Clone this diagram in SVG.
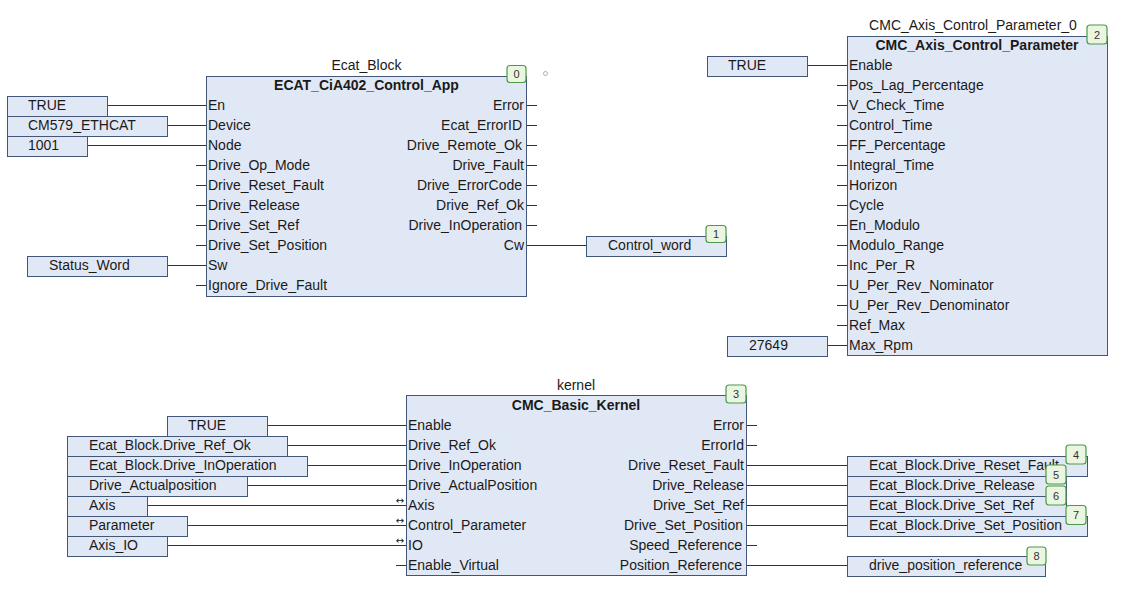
<svg xmlns="http://www.w3.org/2000/svg" width="1125" height="612" viewBox="0 0 1125 612">
<style>
text{font-family:"Liberation Sans",Arial,sans-serif;font-size:14px;fill:#1a1a1a}
.blk{fill:#e1e8f5;stroke:#42567a;stroke-width:1}
.var{fill:#e1e8f5;stroke:#42567a;stroke-width:1}
.ttl{font-weight:bold;text-anchor:middle}
.nm{text-anchor:middle}
.r{text-anchor:end}
.bd rect{fill:#eaf6df;stroke:#4a9a4a;stroke-width:1.2}
.bd text{font-size:11px;text-anchor:middle;fill:#333}
.w{stroke:#333;stroke-width:1;fill:none}
.io{font-family:"DejaVu Sans",sans-serif;font-size:10px;text-anchor:middle}
</style>
<rect width="1125" height="612" fill="#ffffff"/>

<g id="connectors" class="w">
<path d="M107 105.5H206M167 125.5H206M87 145.5H206M167 265.5H206"/>
<path d="M196 165.5H206M196 185.5H206M196 205.5H206M196 225.5H206M196 245.5H206M196 285.5H206"/>
<path d="M527 105.5H537M527 125.5H537M527 145.5H537M527 165.5H537M527 185.5H537M527 205.5H537M527 225.5H537"/>
<path d="M527 245.5H586"/>
<path d="M807 65.5H847M827 345.5H847"/>
<path d="M837 85.5H847M837 105.5H847M837 125.5H847M837 145.5H847M837 165.5H847M837 185.5H847M837 205.5H847M837 225.5H847M837 245.5H847M837 265.5H847M837 285.5H847M837 305.5H847M837 325.5H847"/>
<path d="M267 425.5H406M287 445.5H406M307 465.5H406M247 485.5H406M147 505.5H406M187 525.5H406M167 545.5H406M396 565.5H406"/>
<path d="M747 425.5H757M747 445.5H757M747 545.5H757"/>
<path d="M747 465.5H847M747 485.5H847M747 505.5H847M747 525.5H847M747 565.5H847"/>
</g>

<g id="ecat_block">
<text class="nm" x="366.5" y="70">Ecat_Block</text>
<rect class="blk" x="206.5" y="76.5" width="320" height="220"/>
<text class="ttl" x="366.5" y="90">ECAT_CiA402_Control_App</text>
<text x="208" y="110">En</text>
<text x="208" y="130">Device</text>
<text x="208" y="150">Node</text>
<text x="208" y="170">Drive_Op_Mode</text>
<text x="208" y="190">Drive_Reset_Fault</text>
<text x="208" y="210">Drive_Release</text>
<text x="208" y="230">Drive_Set_Ref</text>
<text x="208" y="250">Drive_Set_Position</text>
<text x="208" y="270">Sw</text>
<text x="208" y="290">Ignore_Drive_Fault</text>
<text class="r" x="524" y="110">Error</text>
<text class="r" x="522" y="130">Ecat_ErrorID</text>
<text class="r" x="522" y="150">Drive_Remote_Ok</text>
<text class="r" x="524" y="170">Drive_Fault</text>
<text class="r" x="522" y="190">Drive_ErrorCode</text>
<text class="r" x="524" y="210">Drive_Ref_Ok</text>
<text class="r" x="522" y="230">Drive_InOperation</text>
<text class="r" x="524" y="250">Cw</text>
<g class="bd"><rect x="507" y="65.5" width="19" height="17" rx="3"/><text x="516.5" y="78">0</text></g>
<circle cx="545.5" cy="73.5" r="2" fill="none" stroke="#999" stroke-width="0.8"/>
</g>

<g id="ecat_inputs">
<rect class="var" x="7.5" y="96.5" width="100" height="20"/><text x="28" y="110">TRUE</text>
<rect class="var" x="7.5" y="116.5" width="160" height="20"/><text x="28" y="130">CM579_ETHCAT</text>
<rect class="var" x="7.5" y="136.5" width="80" height="20"/><text x="28" y="150">1001</text>
<rect class="var" x="27.5" y="256.5" width="140" height="20"/><text x="49" y="270">Status_Word</text>
</g>

<g id="control_word">
<rect class="var" x="586.5" y="236.5" width="140" height="20"/><text x="608" y="250">Control_word</text>
<g class="bd"><rect x="706" y="225.5" width="20" height="17" rx="3"/><text x="716" y="238">1</text></g>
</g>

<g id="axis_param">
<text class="nm" x="973" y="30">CMC_Axis_Control_Parameter_0</text>
<rect class="blk" x="847.5" y="36.5" width="260" height="319"/>
<text class="ttl" x="977" y="50">CMC_Axis_Control_Parameter</text>
<text x="849" y="70">Enable</text>
<text x="849" y="90">Pos_Lag_Percentage</text>
<text x="849" y="110">V_Check_Time</text>
<text x="849" y="130">Control_Time</text>
<text x="849" y="150">FF_Percentage</text>
<text x="849" y="170">Integral_Time</text>
<text x="849" y="190">Horizon</text>
<text x="849" y="210">Cycle</text>
<text x="849" y="230">En_Modulo</text>
<text x="849" y="250">Modulo_Range</text>
<text x="849" y="270">Inc_Per_R</text>
<text x="849" y="290">U_Per_Rev_Nominator</text>
<text x="849" y="310">U_Per_Rev_Denominator</text>
<text x="849" y="330">Ref_Max</text>
<text x="849" y="350">Max_Rpm</text>
<g class="bd"><rect x="1087" y="25" width="20" height="19" rx="3"/><text x="1097" y="39">2</text></g>
</g>

<g id="axis_inputs">
<rect class="var" x="707.5" y="56.5" width="100" height="20"/><text x="728" y="70">TRUE</text>
<rect class="var" x="727.5" y="336.5" width="100" height="20"/><text x="749" y="350">27649</text>
</g>

<g id="kernel">
<text class="nm" x="576" y="390">kernel</text>
<rect class="blk" x="406.5" y="395.5" width="340" height="180"/>
<text class="ttl" x="576" y="410">CMC_Basic_Kernel</text>
<text x="408" y="430">Enable</text>
<text x="408" y="450">Drive_Ref_Ok</text>
<text x="408" y="470">Drive_InOperation</text>
<text x="408" y="490">Drive_ActualPosition</text>
<text x="408" y="510">Axis</text>
<text x="408" y="530">Control_Parameter</text>
<text x="408" y="550">IO</text>
<text x="408" y="570">Enable_Virtual</text>
<text class="io" x="400" y="504">↔</text>
<text class="io" x="400" y="524">↔</text>
<text class="io" x="400" y="544">↔</text>
<text class="r" x="744" y="430">Error</text>
<text class="r" x="744" y="450">ErrorId</text>
<text class="r" x="744" y="470">Drive_Reset_Fault</text>
<text class="r" x="744" y="490">Drive_Release</text>
<text class="r" x="744" y="510">Drive_Set_Ref</text>
<text class="r" x="743" y="530">Drive_Set_Position</text>
<text class="r" x="742" y="550">Speed_Reference</text>
<text class="r" x="742" y="570">Position_Reference</text>
<g class="bd"><rect x="726" y="385" width="20" height="18" rx="3"/><text x="736" y="398">3</text></g>
</g>

<g id="kernel_inputs">
<rect class="var" x="167.5" y="416.5" width="100" height="20"/><text x="188" y="430">TRUE</text>
<rect class="var" x="67.5" y="436.5" width="220" height="20"/><text x="89" y="450">Ecat_Block.Drive_Ref_Ok</text>
<rect class="var" x="67.5" y="456.5" width="240" height="20"/><text x="89" y="470">Ecat_Block.Drive_InOperation</text>
<rect class="var" x="67.5" y="476.5" width="180" height="20"/><text x="89" y="490">Drive_Actualposition</text>
<rect class="var" x="67.5" y="496.5" width="80" height="20"/><text x="89" y="510">Axis</text>
<rect class="var" x="67.5" y="516.5" width="120" height="20"/><text x="89" y="530">Parameter</text>
<rect class="var" x="67.5" y="536.5" width="100" height="20"/><text x="89" y="550">Axis_IO</text>
</g>

<g id="kernel_outputs">
<rect class="var" x="847.5" y="456.5" width="240" height="20"/><text x="869" y="470">Ecat_Block.Drive_Reset_Fault</text>
<rect class="var" x="847.5" y="476.5" width="219" height="20"/><text x="869" y="490">Ecat_Block.Drive_Release</text>
<rect class="var" x="847.5" y="496.5" width="219" height="20"/><text x="869" y="510">Ecat_Block.Drive_Set_Ref</text>
<rect class="var" x="847.5" y="516.5" width="240" height="20"/><text x="869" y="530">Ecat_Block.Drive_Set_Position</text>
<rect class="var" x="847.5" y="556.5" width="198" height="20"/><text x="869" y="570">drive_position_reference</text>
<g class="bd"><rect x="1066" y="445" width="20" height="19" rx="3"/><text x="1076" y="459">4</text></g>
<g class="bd"><rect x="1046" y="465" width="20" height="19" rx="3"/><text x="1056" y="479">5</text></g>
<g class="bd"><rect x="1046" y="486" width="20" height="19" rx="3"/><text x="1056" y="500">6</text></g>
<g class="bd"><rect x="1066" y="505.5" width="20" height="19" rx="3"/><text x="1076" y="519">7</text></g>
<g class="bd"><rect x="1027" y="547" width="19" height="18" rx="3"/><text x="1036.5" y="560">8</text></g>
</g>
</svg>
